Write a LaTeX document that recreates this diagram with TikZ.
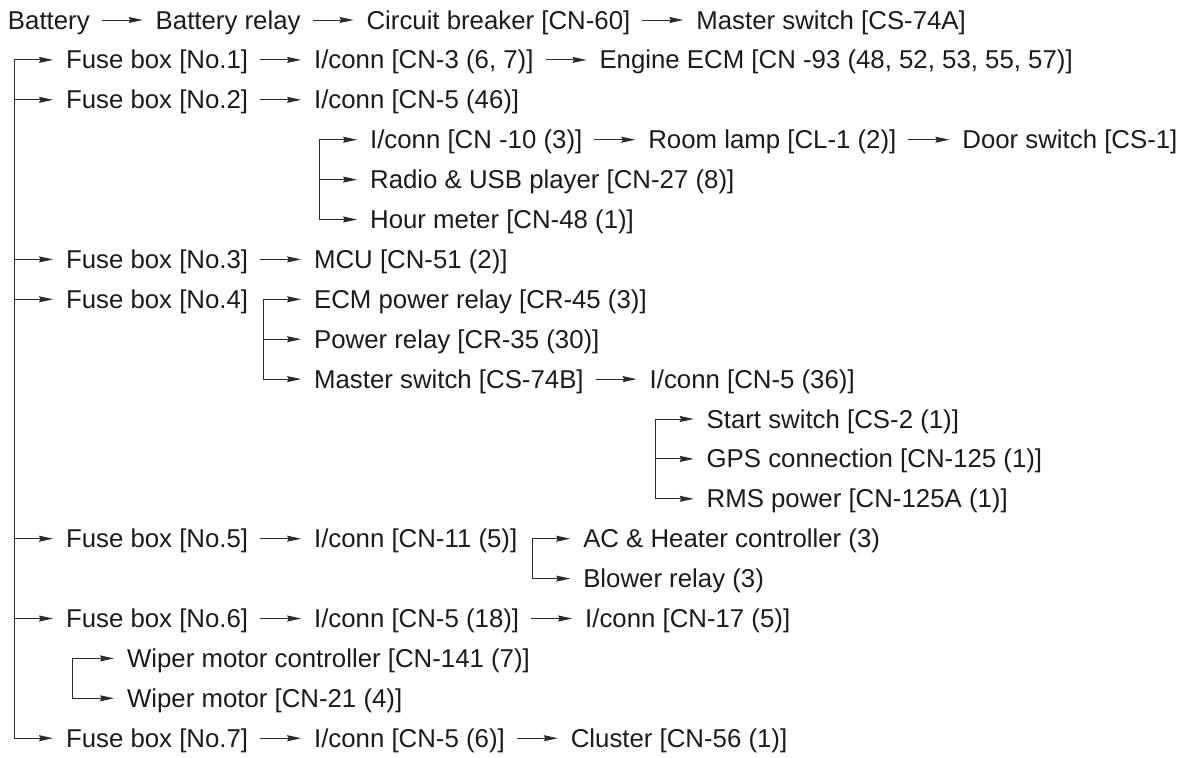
\documentclass[tikz,border=0pt]{standalone}
\usepackage{fontspec}
\setmainfont{Liberation Sans}
\usepackage{xcolor}
\definecolor{InkBlack}{HTML}{1E1A1B}
\definecolor{WireGray}{HTML}{2B2B2B}
\usepackage{tikz}
\usetikzlibrary{positioning,calc,arrows.meta}

\tikzset{
  item/.style={anchor=west, inner sep=0pt, outer sep=0pt, text height=19pt, text depth=1pt,
    font=\fontsize{25.8pt}{30pt}\selectfont, text=InkBlack},
  flow/.style={line width=1pt, draw=WireGray, -{Stealth[length=14pt,width=6pt,inset=1.5pt]},
    shorten <=12pt, shorten >=13pt},
  tap/.style={line width=1pt, draw=WireGray, -{Stealth[length=14pt,width=6pt,inset=1.5pt]},
    shorten >=13pt},
}

\begin{document}
\begin{tikzpicture}[x=1pt, y=-1pt]
    \useasboundingbox (0,0) rectangle (1195,758);
    \def\rowgap{39.9}
    % Row lines
    \foreach \rw in {1,...,19} {
      \coordinate (r\rw) at (0,{20+(\rw-1)*\rowgap});
    }

    % Supply line
    \node[item] (bat) at ($(r1)+(8,0)$) {Battery};
    \node[item, right=66pt of bat] (batrly) {Battery relay};
    \node[item, right=66pt of batrly] (cb60) {Circuit breaker [CN-60]};
    \node[item, right=66pt of cb60] (ms74a) {Master switch [CS-74A]};
    \draw[flow] (bat) -- (batrly);
    \draw[flow] (batrly) -- (cb60);
    \draw[flow] (cb60) -- (ms74a);

    % Fuse boxes on the trunk
    \foreach \fb/\rw in {1/2,2/3,3/7,4/8,5/14,6/16,7/19} {
      \node[item] (fb\fb) at ($(r\rw)+(66,0)$) {Fuse box [No.\fb]};
    }
    \coordinate (trunk) at ($(fb1.west)+(-52,0)$);
    \foreach \fb in {1,...,7} {
      \draw[tap] (trunk) |- (fb\fb);
    }

    % No.1
    \node[item, right=66pt of fb1] (ic3) {I/conn [CN-3 (6, 7)]};
    \node[item, right=66pt of ic3] (ecm93) {Engine ECM [CN -93 (48, 52, 53, 55, 57)]};
    \draw[flow] (fb1) -- (ic3);
    \draw[flow] (ic3) -- (ecm93);

    % No.2
    \node[item, right=66pt of fb2] (ic46) {I/conn [CN-5 (46)]};
    \draw[flow] (fb2) -- (ic46);
    \coordinate (br46) at ($(ic46.west |- r4)+(5,0)$);
    \node[item] (ic10) at ($(br46)+(51,0)$) {I/conn [CN -10 (3)]};
    \node[item, right=66pt of ic10] (cl1) {Room lamp [CL-1 (2)]};
    \node[item, right=66pt of cl1] (cs1) {Door switch [CS-1]};
    \node[item] (cn27) at (ic10.west |- r5) {Radio \& USB player [CN-27 (8)]};
    \node[item] (cn48) at (ic10.west |- r6) {Hour meter [CN-48 (1)]};
    \foreach \t in {ic10,cn27,cn48} {
      \draw[tap] (br46) |- (\t);
    }
    \draw[flow] (ic10) -- (cl1);
    \draw[flow] (cl1) -- (cs1);

    % No.3
    \node[item, right=66pt of fb3] (mcu) {MCU [CN-51 (2)]};
    \draw[flow] (fb3) -- (mcu);

    % No.4
    \coordinate (br4) at ($(fb4.east)+(15,0)$);
    \node[item] (cr45) at ($(br4)+(51,0)$) {ECM power relay [CR-45 (3)]};
    \node[item] (cr35) at (cr45.west |- r9) {Power relay [CR-35 (30)]};
    \node[item] (ms74b) at (cr45.west |- r10) {Master switch [CS-74B]};
    \foreach \t in {cr45,cr35,ms74b} {
      \draw[tap] (br4) |- (\t);
    }
    \node[item, right=66pt of ms74b] (ic36) {I/conn [CN-5 (36)]};
    \draw[flow] (ms74b) -- (ic36);
    \coordinate (br36) at ($(ic36.west |- r11)+(6,0)$);
    \node[item] (cs2) at ($(br36)+(51,0)$) {Start switch [CS-2 (1)]};
    \node[item] (gps) at (cs2.west |- r12) {GPS connection [CN-125 (1)]};
    \node[item] (rms) at (cs2.west |- r13) {RMS power [CN-125A (1)]};
    \foreach \t in {cs2,gps,rms} {
      \draw[tap] (br36) |- (\t);
    }

    % No.5
    \node[item, right=66pt of fb5] (ic11) {I/conn [CN-11 (5)]};
    \draw[flow] (fb5) -- (ic11);
    \coordinate (br11) at ($(ic11.east)+(15,0)$);
    \node[item] (ach) at ($(br11)+(51,0)$) {AC \& Heater controller (3)};
    \node[item] (blower) at (ach.west |- r15) {Blower relay (3)};
    \foreach \t in {ach,blower} {
      \draw[tap] (br11) |- (\t);
    }

    % No.6
    \node[item, right=66pt of fb6] (ic18) {I/conn [CN-5 (18)]};
    \node[item, right=66pt of ic18] (ic17) {I/conn [CN-17 (5)]};
    \draw[flow] (fb6) -- (ic18);
    \draw[flow] (ic18) -- (ic17);
    \coordinate (br17) at ($(fb6.west |- r17)+(6,0)$);
    \node[item] (wmc) at ($(br17)+(55,0)$) {Wiper motor controller [CN-141 (7)]};
    \node[item] (wm) at (wmc.west |- r18) {Wiper motor [CN-21 (4)]};
    \foreach \t in {wmc,wm} {
      \draw[tap] (br17) |- (\t);
    }

    % No.7
    \node[item, right=66pt of fb7] (ic6) {I/conn [CN-5 (6)]};
    \node[item, right=66pt of ic6] (cn56) {Cluster [CN-56 (1)]};
    \draw[flow] (fb7) -- (ic6);
    \draw[flow] (ic6) -- (cn56);
\end{tikzpicture}
\end{document}
